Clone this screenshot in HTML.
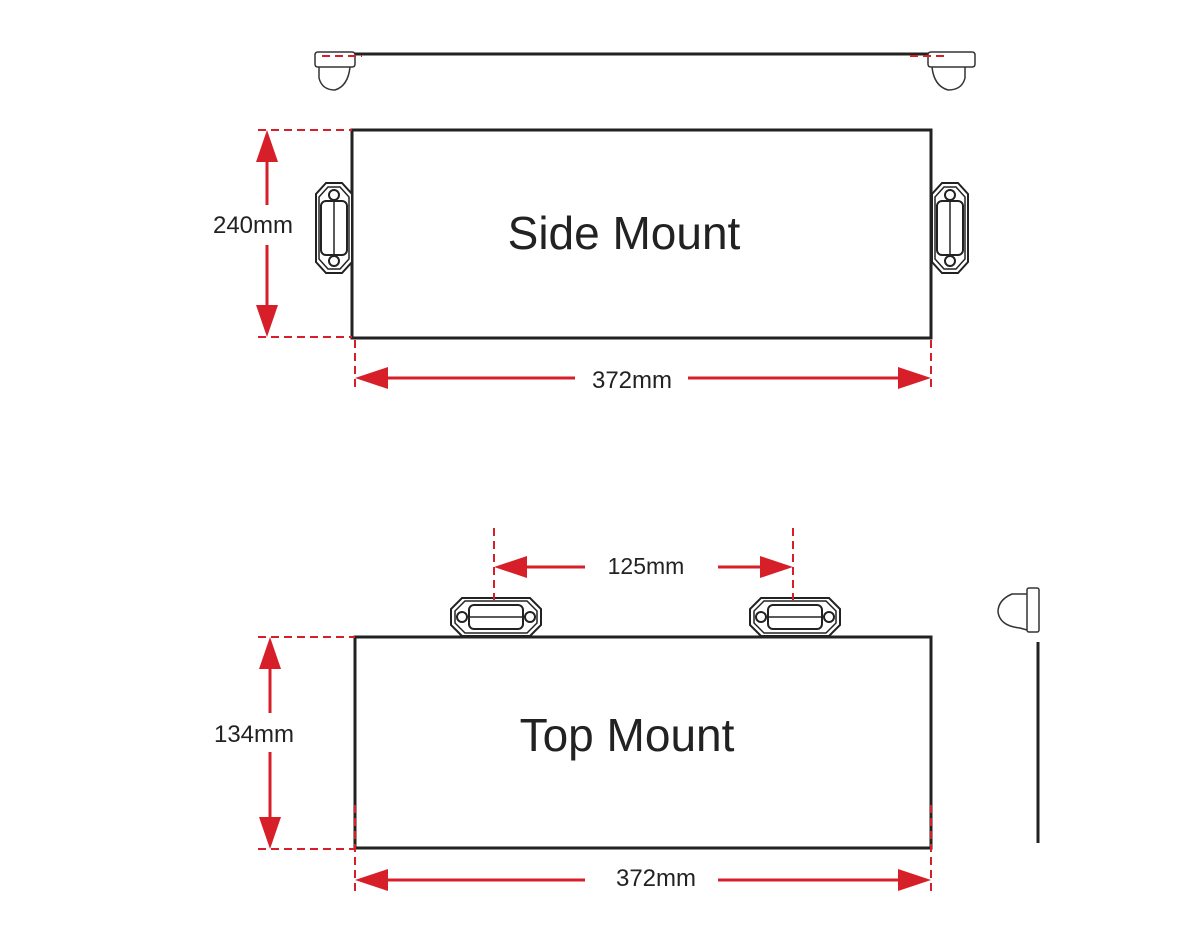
<!DOCTYPE html>
<html><head><style>body{margin:0;background:#fff}svg{display:block}</style></head><body>
<svg width="1200" height="950" viewBox="0 0 1200 950" xmlns="http://www.w3.org/2000/svg">
<defs>
<g id="sconn">
<path d="M-8,-45 L8,-45 L18,-34 L18,34 L8,45 L-8,45 L-18,34 L-18,-34 Z" fill="#fff" stroke="#222" stroke-width="2"/>
<path d="M-6,-41 L6,-41 L15,-31 L15,31 L6,41 L-6,41 L-15,31 L-15,-31 Z" fill="none" stroke="#222" stroke-width="1.5"/>
<rect x="-13" y="-27" width="26" height="54" rx="5" fill="#fff" stroke="#222" stroke-width="2"/>
<line x1="0" y1="-27" x2="0" y2="27" stroke="#222" stroke-width="1.5"/>
<circle cx="0" cy="-33" r="5" fill="#fff" stroke="#222" stroke-width="2"/>
<circle cx="0" cy="33" r="5" fill="#fff" stroke="#222" stroke-width="2"/>
</g>
<g id="tconn">
<path d="M-34,-19 L34,-19 L45,-8 L45,8 L34,19 L-34,19 L-45,8 L-45,-8 Z" fill="#fff" stroke="#222" stroke-width="2"/>
<path d="M-31,-16 L31,-16 L41,-6 L41,6 L31,16 L-31,16 L-41,6 L-41,-6 Z" fill="none" stroke="#222" stroke-width="1.5"/>
<rect x="-27" y="-12" width="54" height="24" rx="5" fill="#fff" stroke="#222" stroke-width="2"/>
<line x1="-27" y1="0" x2="27" y2="0" stroke="#222" stroke-width="1.5"/>
<circle cx="-34" cy="0" r="5" fill="#fff" stroke="#222" stroke-width="2"/>
<circle cx="34" cy="0" r="5" fill="#fff" stroke="#222" stroke-width="2"/>
</g>
</defs>
<g font-family="Liberation Sans, sans-serif" fill="#222">
<line x1="352" y1="54" x2="928" y2="54" stroke="#222" stroke-width="3"/>
<path d="M315,55 Q315,52 318,52 L352,52 Q355,52 355,55 L355,64 Q355,67 352,67 L318,67 Q315,67 315,64 Z" fill="#fff" stroke="#333" stroke-width="1.5"/>
<path d="M319,67 L319,78 Q322,90 335,90 Q348,86 350,67" fill="none" stroke="#333" stroke-width="1.5"/>
<path d="M928,55 Q928,52 931,52 L972,52 Q975,52 975,55 L975,64 Q975,67 972,67 L931,67 Q928,67 928,64 Z" fill="#fff" stroke="#333" stroke-width="1.5"/>
<path d="M932,67 Q934,86 948,90 Q962,90 965,78 L965,67" fill="none" stroke="#333" stroke-width="1.5"/>
<line x1="322" y1="56" x2="362" y2="56" stroke="#d71f2a" stroke-width="2" stroke-dasharray="8,5"/>
<line x1="910" y1="56" x2="948" y2="56" stroke="#d71f2a" stroke-width="2" stroke-dasharray="8,5"/>

<rect x="352" y="130" width="579" height="208" fill="#fff" stroke="#222" stroke-width="3"/>
<use href="#sconn" x="334" y="228"/>
<use href="#sconn" x="950" y="228"/>
<text x="624" y="249" font-size="46" text-anchor="middle">Side Mount</text>
<g stroke="#d71f2a" stroke-width="2" stroke-dasharray="8,5" fill="none">
<line x1="258" y1="130" x2="352" y2="130"/><line x1="258" y1="337" x2="352" y2="337"/>
<line x1="355" y1="340" x2="355" y2="390"/><line x1="931" y1="340" x2="931" y2="390"/>
</g>
<g stroke="#d71f2a" stroke-width="3">
<line x1="267" y1="150" x2="267" y2="205"/><line x1="267" y1="245" x2="267" y2="318"/>
<line x1="375" y1="378" x2="575" y2="378"/><line x1="688" y1="378" x2="912" y2="378"/>
</g>
<g fill="#d71f2a">
<polygon points="267,130 256,162 278,162"/><polygon points="267,337 256,305 278,305"/>
<polygon points="355,378 388,367 388,389"/><polygon points="931,378 898,367 898,389"/>
</g>
<text x="253" y="233" font-size="24" text-anchor="middle">240mm</text>
<text x="632" y="388" font-size="24" text-anchor="middle">372mm</text>

<rect x="355" y="637" width="576" height="211" fill="#fff" stroke="#222" stroke-width="3"/>
<use href="#tconn" x="496" y="617"/>
<use href="#tconn" x="795" y="617"/>
<text x="627" y="751" font-size="46" text-anchor="middle">Top Mount</text>
<g stroke="#d71f2a" stroke-width="2" stroke-dasharray="8,5" fill="none">
<line x1="494" y1="528" x2="494" y2="600"/><line x1="793" y1="528" x2="793" y2="600"/>
<line x1="258" y1="637" x2="355" y2="637"/><line x1="258" y1="849" x2="355" y2="849"/>
<line x1="355" y1="805" x2="355" y2="895"/><line x1="931" y1="805" x2="931" y2="895"/>
</g>
<g stroke="#d71f2a" stroke-width="3">
<line x1="515" y1="567" x2="585" y2="567"/><line x1="718" y1="567" x2="772" y2="567"/>
<line x1="270" y1="657" x2="270" y2="713"/><line x1="270" y1="752" x2="270" y2="830"/>
<line x1="375" y1="880" x2="585" y2="880"/><line x1="718" y1="880" x2="912" y2="880"/>
</g>
<g fill="#d71f2a">
<polygon points="494,567 527,556 527,578"/><polygon points="793,567 760,556 760,578"/>
<polygon points="270,637 259,669 281,669"/><polygon points="270,849 259,817 281,817"/>
<polygon points="355,880 388,869 388,891"/><polygon points="931,880 898,869 898,891"/>
</g>
<text x="646" y="574" font-size="23" text-anchor="middle">125mm</text>
<text x="254" y="742" font-size="24" text-anchor="middle">134mm</text>
<text x="656" y="886" font-size="24" text-anchor="middle">372mm</text>

<line x1="1038" y1="642" x2="1038" y2="843" stroke="#222" stroke-width="3"/>
<rect x="1027" y="588" width="12" height="44" rx="2" fill="#fff" stroke="#333" stroke-width="1.5"/>
<path d="M1027,594 L1012,594 Q998,600 998,612 Q1000,626 1020,628 L1027,630" fill="none" stroke="#333" stroke-width="1.5"/>
</g>
</svg>
</body></html>
